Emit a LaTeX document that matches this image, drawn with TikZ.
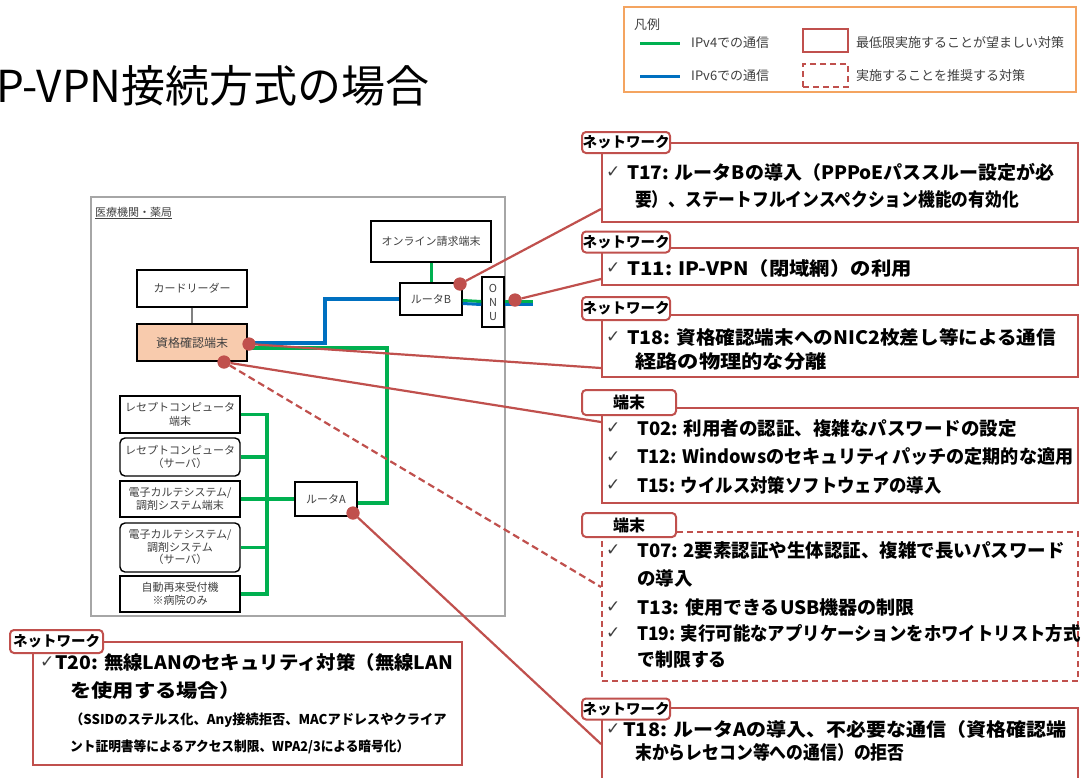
\documentclass[tikz,border=0pt]{standalone}
\usepackage{fontspec}
\usepackage{graphicx}
\setmainfont{Noto Sans CJK JP}
\newfontfamily\symf{DejaVu Sans}
\usetikzlibrary{calc}
\definecolor{redc}{RGB}{192,80,77}
\definecolor{greenc}{RGB}{0,176,80}
\definecolor{bluec}{RGB}{0,112,192}
\definecolor{peach}{RGB}{248,203,173}
\definecolor{orangec}{RGB}{244,164,96}
\definecolor{txtgray}{RGB}{64,64,64}
\definecolor{hgray}{RGB}{166,166,166}
\definecolor{wire}{RGB}{128,128,128}
\newcommand{\sx}[2]{\scalebox{#1}[1]{#2}}
\begin{document}
\begin{tikzpicture}[x=1pt,y=-1pt,
 dev/.style={draw=black, line width=1.4, fill=white, inner sep=1, align=center, text=txtgray, font=\fontsize{11}{13.5}\selectfont},
 v4/.style={greenc, line width=3.5},
 v6/.style={bluec, line width=3.5},
 conn/.style={redc, line width=2.2},
 dconn/.style={redc, line width=2.2, dash pattern=on 7pt off 4pt},
 dot/.style={circle, fill=redc, minimum size=13, inner sep=0},
 mbox/.style={draw=redc, line width=2, fill=white, minimum width=476, inner sep=0},
 tag/.style={draw=redc, line width=2, fill=white, rounded corners=4, inner sep=0, font=\bfseries\fontsize{14.5}{14.5}\selectfont},
 ln/.style={anchor=west, inner sep=0, font=\bfseries\fontsize{18.5}{20}\selectfont},
 sub/.style={anchor=west, inner sep=0, font=\bfseries\fontsize{13.5}{14}\selectfont},
 ck/.style={anchor=west, inner sep=0, font=\symf\fontsize{17}{17}\selectfont, text=txtgray},
 lg/.style={anchor=west, inner sep=0, text=txtgray, font=\fontsize{13}{13}\selectfont}
]
\fill[white] (0,0) rectangle (1084,777);
\useasboundingbox (0,0) rectangle (1084,777);

% title
\node[anchor=west, inner sep=0, font=\fontsize{44}{44}\selectfont] (title) at (-4,86) {P-VPN接続方式の場合};

% legend
\node[draw=orangec, line width=2, minimum width=452, minimum height=85, inner sep=0] (leg) at (850,49.5) {};
\node[lg] (leg0) at (634,25) {凡例};
\coordinate (lg1a) at (640,43); \coordinate (lg1b) at (680,43);
\coordinate (lg2a) at (640,76); \coordinate (lg2b) at (680,76);
\draw[greenc, line width=3] (lg1a) -- (lg1b);
\draw[bluec, line width=3] (lg2a) -- (lg2b);
\node[lg] (leg1) at (691,43) {IPv4での通信};
\node[lg] (leg2) at (691,76) {IPv6での通信};
\node[draw=redc, line width=2, minimum width=45, minimum height=23, inner sep=0] (legs) at (825.5,40.5) {};
\node[draw=redc, line width=2, dash pattern=on 6pt off 4pt, minimum width=45, minimum height=23, inner sep=0] (legd) at (825.5,75.5) {};
\node[lg] (leg3) at (856,43) {最低限実施することが望ましい対策};
\node[lg] (leg4) at (856,76) {実施することを推奨する対策};

% hospital area
\node[draw=hgray, line width=1.5, minimum width=414, minimum height=419, inner sep=0] (hosp) at (298,406.5) {};
\node[anchor=west, inner sep=0, text=txtgray, font=\fontsize{11}{11}\selectfont] (hlabel) at (95,213) {\underline{医療機関・薬局}};

% devices
\node[dev, minimum width=120, minimum height=41] (online) at (431,241.5) {オンライン請求端末};
\node[dev, minimum width=62, minimum height=32] (routerB) at (431,299) {ルータB};
\node[dev, minimum width=22, minimum height=50, font=\fontsize{11}{14}\selectfont] (onu) at (493,302) {O\\N\\U};
\node[dev, minimum width=110, minimum height=37] (card) at (192,288.5) {カードリーダー};
\node[dev, minimum width=110, minimum height=37, fill=peach, font=\fontsize{12}{14}\selectfont] (qual) at (192,342.5) {資格確認端末};
\node[dev, minimum width=120, minimum height=37] (r1) at (180,414.5) {レセプトコンピュータ\\端末};
\node[dev, minimum width=120, minimum height=38, rounded corners=5] (r2) at (180,457) {レセプトコンピュータ\\（サーバ）};
\node[dev, minimum width=120, minimum height=36] (r3) at (180,499) {電子カルテシステム/\\調剤システム端末};
\node[dev, minimum width=120, minimum height=49, rounded corners=5, font=\fontsize{11}{12.5}\selectfont] (r4) at (180,547.5) {電子カルテシステム/\\調剤システム\\（サーバ）};
\node[dev, minimum width=120, minimum height=36] (r5) at (180,594) {自動再来受付機\\※病院のみ};
\node[dev, minimum width=62, minimum height=34] (routerA) at (326,499) {ルータA};

% wiring
\draw[wire, line width=2.5] (card.south) -- (qual.north);
\draw[v4, line width=3] (online.south) -- (routerB.north);
\coordinate (bt) at (267,414.5);
\coordinate (bb) at (267,594);
\draw[v4] (r1.east) -- (bt) -- (bb) -- (r5.east);
\draw[v4] (r2.east) -- (r2.east -| bt);
\draw[v4] (r4.east) -- (r4.east -| bt);
\draw[v4] (r3.east) -- (routerA.west);
\coordinate (gcorner) at (387,348);
\draw[v4] ($(routerA.east)+(0,4)$) -| (gcorner) -- ($(qual.east)+(0,5.5)$);
\coordinate (bcorner) at (325,299);
\draw[v6] ($(qual.east)+(0,0.5)$) -| (bcorner) -- (routerB.west);
\draw[greenc, line width=3] ($(routerB.east)+(0,1.5)$) -- ($(onu.west)+(0,-0.5)$);
\draw[bluec, line width=3] ($(routerB.east)+(0,4.5)$) -- ($(onu.west)+(0,2.5)$);
\coordinate (wanG) at (533,301.5);
\coordinate (wanB) at (533,304.5);
\draw[greenc, line width=3] ($(onu.east)+(0,-0.5)$) -- (wanG);
\draw[bluec, line width=3] ($(onu.east)+(0,2.5)$) -- (wanB);

% measure boxes
\node[mbox, minimum height=79] (b1) at (840,182.5) {};
\node[mbox, minimum height=37] (b2) at (840,266.5) {};
\node[mbox, minimum height=62] (b3) at (840,346) {};
\node[mbox, minimum height=95] (b4) at (840,455.5) {};
\node[mbox, minimum height=149, dash pattern=on 6pt off 4pt] (b5) at (840,606.5) {};
\node[mbox, minimum height=82] (b6) at (840,749) {};
\node[mbox, minimum width=429, minimum height=123] (b7) at (247.5,703.5) {};

% red dots
\node[dot] (dB) at (460,284) {};
\node[dot] (dO) at (515,300) {};
\node[dot] (dQ1) at (249,344) {};
\node[dot] (dQ2) at (224,362) {};
\node[dot] (dA) at (353,513) {};

% connectors
\draw[conn] (dB) -- ($(b1.south west)+(0,-14)$);
\draw[conn] (dO) -- ($(b2.south west)+(0,-7)$);
\draw[conn] (dQ1) -- ($(b3.south west)+(0,-10)$);
\draw[conn] (dQ2) -- ($(b4.north west)+(0,15)$);
\draw[dconn] (dQ2) -- ($(b5.north west)+(0,56)$);
\draw[conn] (dA) -- ($(b6.north west)+(0,37)$);
\node[dot] (dB2) at (dB) {};
\node[dot] (dO2) at (dO) {};
\node[dot] (dQ12) at (dQ1) {};
\node[dot] (dQ22) at (dQ2) {};
\node[dot] (dA2) at (dA) {};

% tags
\node[tag, minimum width=88, minimum height=21] (t1) at (626,142.5) {ネットワーク};
\node[tag, minimum width=88, minimum height=21] (t2) at (626,242) {ネットワーク};
\node[tag, minimum width=88, minimum height=23] (t3) at (626,308.5) {ネットワーク};
\node[tag, minimum width=94, minimum height=25, font=\bfseries\fontsize{16}{16}\selectfont] (t4) at (629,402.5) {端末};
\node[tag, minimum width=94, minimum height=24, font=\bfseries\fontsize{16}{16}\selectfont] (t5) at (629,525) {端末};
\node[tag, minimum width=88, minimum height=21] (t6) at (626,709) {ネットワーク};
\node[tag, minimum width=93, minimum height=23] (t7) at (56.5,641.5) {ネットワーク};

% box 1
\node[ck] (c11) at (606,172) {✓};
\node[ln] (l11) at (627,172) {\sx{1.027}{T17: ルータBの導入（PPPoEパススルー設定が必}};
\node[ln] (l12) at (635,199) {\sx{0.905}{要）、ステートフルインスペクション機能の有効化}};
% box 2
\node[ck] (c21) at (606,268) {✓};
\node[ln] (l21) at (627,268) {\sx{1.1}{T11: IP-VPN（閉域網）の利用}};
% box 3
\node[ck] (c31) at (606,337) {✓};
\node[ln] (l31) at (627,337) {\sx{1.06}{T18: 資格確認端末へのNIC2枚差し等による通信}};
\node[ln] (l32) at (635,362) {\sx{1.15}{経路の物理的な分離}};
% box 4
\node[ck] (c41) at (606,428) {✓};
\node[ln] (l41) at (637,428) {T02: 利用者の認証、複雑なパスワードの設定};
\node[ck] (c42) at (606,457) {✓};
\node[ln] (l42) at (637,457) {\sx{0.98}{T12: Windowsのセキュリティパッチの定期的な適用}};
\node[ck] (c43) at (606,485) {✓};
\node[ln] (l43) at (637,485) {\sx{0.94}{T15: ウイルス対策ソフトウェアの導入}};
% box 5
\node[ck] (c51) at (606,550) {✓};
\node[ln] (l51) at (637,550) {T07: 2要素認証や生体認証、複雑で長いパスワード};
\node[ln] (l52) at (637,578) {の導入};
\node[ck] (c53) at (606,607) {✓};
\node[ln] (l53) at (637,607) {\sx{1.03}{T13: 使用できるUSB機器の制限}};
\node[ck] (c54) at (606,633) {✓};
\node[ln] (l54) at (637,633) {\sx{0.94}{T19: 実行可能なアプリケーションをホワイトリスト方式}};
\node[ln] (l55) at (637,660) {\sx{0.97}{で制限する}};
% box 6
\node[ck] (c61) at (606,729) {✓};
\node[ln] (l61) at (623,729) {\sx{1.08}{T18: ルータAの導入、不必要な通信（資格確認端}};
\node[ln] (l62) at (635,752) {\sx{0.91}{末からレセコン等への通信）の拒否}};
% box 7
\node[ck] (c71) at (40,662) {✓};
\node[ln] (l71) at (55,662) {\sx{1.05}{T20: 無線LANのセキュリティ対策（無線LAN}};
\node[ln] (l72) at (70,690) {\sx{1.15}{を使用する場合）}};
\node[sub] (l73) at (70,720) {\sx{0.98}{（SSIDのステルス化、Any接続拒否、MACアドレスやクライア}};
\node[sub] (l74) at (70,747) {\sx{0.94}{ント証明書等によるアクセス制限、WPA2/3による暗号化）}};
\end{tikzpicture}
\end{document}
